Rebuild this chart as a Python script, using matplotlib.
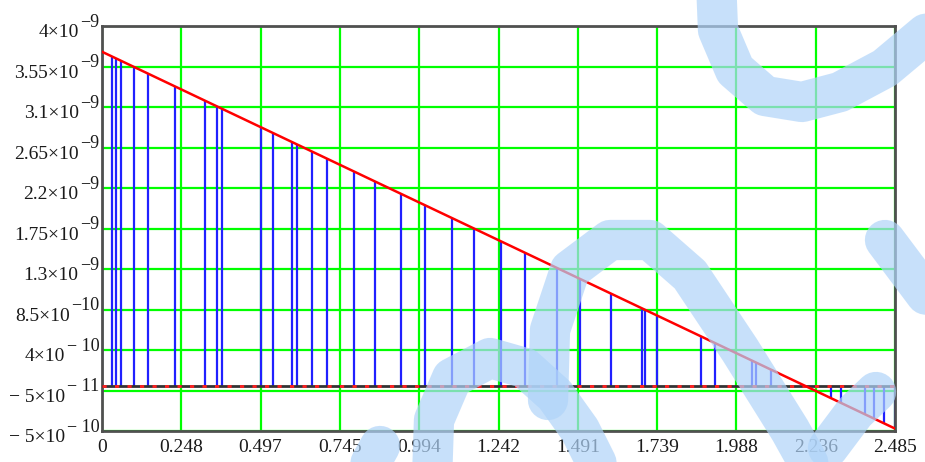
import matplotlib
matplotlib.use("Agg")
import matplotlib.pyplot as plt

plt.rcParams["font.family"] = "Liberation Serif"

# sample times and the value at each sample
t_samples = [0, 0.0304, 0.0429, 0.058, 0.1012, 0.1432, 0.2278, 0.3237, 0.3613,
             0.377, 0.499, 0.5368, 0.5954, 0.6095, 0.6581, 0.706, 0.7907, 0.854,
             0.938, 1.0128, 1.0978, 1.1667, 1.251, 1.3262, 1.4259, 1.498, 1.595,
             1.6907, 1.7001, 1.7393, 1.8772, 1.9204, 2.0357, 2.0508, 2.0959,
             2.2846, 2.3168, 2.3911, 2.4183, 2.4491, 2.485]
v_samples = [3.714e-9, 3.663e-9, 3.642e-9, 3.616e-9, 3.543e-9, 3.473e-9, 3.330e-9,
             3.169e-9, 3.105e-9, 3.079e-9, 2.873e-9, 2.809e-9, 2.711e-9, 2.687e-9,
             2.605e-9, 2.524e-9, 2.382e-9, 2.275e-9, 2.133e-9, 2.007e-9, 1.864e-9,
             1.748e-9, 1.606e-9, 1.479e-9, 1.311e-9, 1.190e-9, 1.026e-9, 0.865e-9,
             0.849e-9, 0.783e-9, 0.551e-9, 0.478e-9, 0.284e-9, 0.258e-9, 0.182e-9,
             -0.136e-9, -0.190e-9, -0.315e-9, -0.361e-9, -0.413e-9, -0.473e-9]

# straight trace
trace_t = [0, 2.485]
trace_v = [3.714e-9, -0.473e-9]

x_ticks = [0, 0.2485, 0.497, 0.7455, 0.994, 1.2425, 1.491, 1.7395, 1.988, 2.2365, 2.485]
x_labels = ["0", "0.248", "0.497", "0.745", "0.994", "1.242", "1.491", "1.739",
            "1.988", "2.236", "2.485"]
y_ticks = [4e-9, 3.55e-9, 3.1e-9, 2.65e-9, 2.2e-9, 1.75e-9, 1.3e-9, 8.5e-10,
           4e-10, -5e-11, -5e-10]
y_mant = ["4×10", "3.55×10", "3.1×10", "2.65×10", "2.2×10", "1.75×10", "1.3×10",
          "8.5×10", "4×10", "− 5×10", "− 5×10"]
y_exp = ["−9", "−9", "−9", "−9", "−9", "−9", "−9", "−10", "− 10", "− 11", "− 10"]

fig = plt.figure(figsize=(9.25, 4.62), dpi=100)
ax = fig.add_axes([102 / 925, 31 / 462, 793 / 925, 405 / 462])

ax.set_xlim(0, 2.485)
ax.set_ylim(-5e-10, 4e-9)
ax.set_xticks(x_ticks, x_labels)
ax.set_yticks(y_ticks, [""] * len(y_ticks))
ax.tick_params(length=0, labelsize=14, labelcolor="#1a1a1a")
ax.tick_params(axis="x", pad=6)
ax.grid(True, color="#00ff00", lw=1.6, zorder=0)
ax.set_axisbelow(True)

# y labels: mantissa and a full-size raised exponent
for v, m, e in zip(y_ticks, y_mant, y_exp):
    sup = ax.annotate(e, xy=(0, v), xycoords=("axes fraction", "data"),
                      xytext=(-2, -0.5), textcoords="offset points",
                      ha="right", va="baseline", fontsize=13, color="#1a1a1a")
    ax.annotate(m, xy=(0, v), xycoords=(sup, "data"),
                xytext=(-1, -8), textcoords="offset points",
                ha="right", va="baseline", fontsize=14, color="#1a1a1a")

ax.vlines(t_samples, 0, v_samples, color="#2020ff", lw=1.6, zorder=2)
ax.axhline(0, color="#333333", lw=2, zorder=3)
ax.axhline(0, color="#ff2020", lw=2, dashes=(1.5, 3), zorder=3)
ax.plot(trace_t, trace_v, color="#ff0000", lw=1.8, zorder=4)

for s in ax.spines.values():
    s.set_color("#505050")
    s.set_linewidth(2)

# light blue watermark strokes on top
wm = fig.add_axes([0, 0, 1, 1], zorder=10)
wm.set_xlim(0, 925)
wm.set_ylim(462, 0)
wm.axis("off")
wm.patch.set_alpha(0)
wm_style = dict(color="#b0d4f9", alpha=0.7, lw=29, solid_capstyle="round",
                solid_joinstyle="round")
strokes = [
    ([716, 718, 735, 765, 802, 840, 885, 940], [-20, 30, 70, 96, 102, 92, 68, 22]),
    ([885, 945], [240, 320]),
    ([432, 434, 452, 490, 525, 555, 580, 605], [480, 420, 378, 358, 368, 395, 430, 480]),
    ([548, 550, 570, 610, 650, 690, 740, 790, 815], [400, 330, 270, 240, 240, 275, 350, 430, 475]),
    ([828, 855, 876], [448, 412, 392]),
    ([350, 380], [500, 446]),
]
for xs, ys in strokes:
    wm.plot(xs, ys, **wm_style)

fig.savefig("out.png", dpi=100)
